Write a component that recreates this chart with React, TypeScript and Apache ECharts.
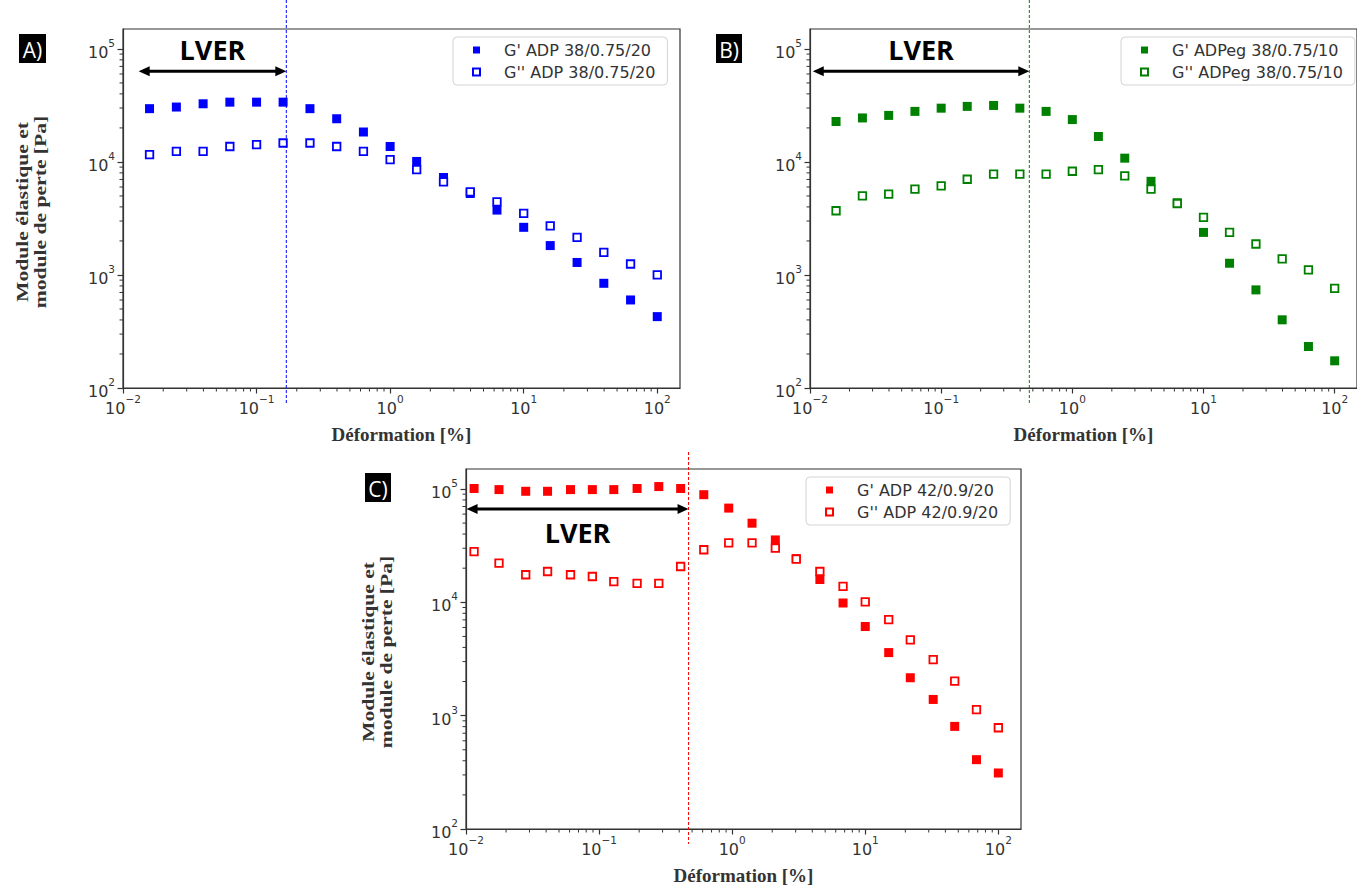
import React, { useEffect, useRef } from "react";
import * as echarts from "echarts";

// ---------- data ----------
const strainAB = [0.0158, 0.0251, 0.0398, 0.0631, 0.1, 0.158, 0.251, 0.398, 0.631, 1, 1.58, 2.51, 3.98, 6.31, 10, 15.8, 25.1, 39.8, 63.1, 100];
const gPrimeA = [29600, 30600, 32700, 33800, 33800, 33800, 29600, 24100, 18400, 13700, 10100, 7280, 5260, 3750, 2640, 1820, 1290, 844, 601, 428];
const gSecondA = [11600, 12400, 12400, 13700, 14200, 14700, 14700, 13700, 12400, 10500, 8560, 6660, 5430, 4430, 3500, 2720, 2150, 1585, 1250, 1000];

const gPrimeB = [22800, 24500, 25800, 28000, 29900, 31000, 31600, 29900, 28000, 23700, 16800, 10800, 6740, 4350, 2380, 1270, 738, 401, 233, 174];
const gSecondB = [3700, 5010, 5190, 5740, 6140, 7030, 7790, 7790, 7790, 8270, 8560, 7520, 5740, 4290, 3230, 2380, 1880, 1390, 1110, 762];

const strainC = [0.0115, 0.0177, 0.0281, 0.041, 0.061, 0.089, 0.129, 0.193, 0.281, 0.41, 0.612, 0.942, 1.41, 2.11, 3.03, 4.56, 6.81, 10, 15, 21.8, 32.4, 47, 68.5, 100];
const gPrimeC = [101000, 98700, 95400, 95400, 98700, 98700, 98700, 101000, 105000, 101000, 89000, 67800, 49900, 35500, 24300, 15900, 9860, 6120, 3600, 2160, 1390, 804, 409, 312];
const gSecondC = [28000, 22200, 17500, 18700, 17500, 16900, 15200, 14700, 14700, 20700, 29100, 33400, 33400, 30100, 24000, 18700, 13800, 10100, 7020, 4670, 3120, 2020, 1130, 782];

const seriesNames = [
  ["G' ADP 38/0.75/20", "G'' ADP 38/0.75/20"],
  ["G' ADPeg 38/0.75/10", "G'' ADPeg 38/0.75/10"],
  ["G' ADP 42/0.9/20", "G'' ADP 42/0.9/20"],
];
const panelLabels = ["A)", "B)", "C)"];
const xTitle = "Déformation [%]";
const yTitle = "Module élastique et\nmodule de perte [Pa]";
// LVER limit (strain %), arrow height (Pa), arrow left end (strain %)
const lverLimit = [0.167, 0.47, 0.47];
const lverArrowStart = [0.0131, 0.0105, 0.0101];
const lverArrowLevel = [63500, 63500, 66400];

const xMajorTicks = [0.01, 0.1, 1, 10, 100];
const xMinorTicks = [0.02, 0.03, 0.04, 0.05, 0.06, 0.07, 0.08, 0.09, 0.2, 0.3, 0.4, 0.5, 0.6, 0.7, 0.8, 0.9, 2, 3, 4, 5, 6, 7, 8, 9, 20, 30, 40, 50, 60, 70, 80, 90];
const yMajorTicks = [100, 1000, 10000, 100000];
const yMinorTicks = [200, 300, 400, 500, 600, 700, 800, 900, 2000, 3000, 4000, 5000, 6000, 7000, 8000, 9000, 20000, 30000, 40000, 50000, 60000, 70000, 80000, 90000];
const xRange = [0.01, 148];
const yRange = [100, 150000];

const colors = ["#0000ff", "#008000", "#ff0000"];
const AXIS = "#333333";
const TICKFONT = "DejaVu Sans";

const zip = (xs: number[], ys: number[]) => xs.map((x, i) => [x, ys[i]]);

const powFmt = (v: number) => {
  const e = Math.round(Math.log10(v));
  return `{b|10}{s|${e < 0 ? "\u2212" + -e : e}}`;
};
const richLabel = {
  b: { fontSize: 16, fontFamily: TICKFONT, color: AXIS, lineHeight: 23, verticalAlign: "bottom" },
  s: { fontSize: 10.5, fontFamily: TICKFONT, color: AXIS, lineHeight: 23, verticalAlign: "top" },
};

const grids = [
  { left: 123, top: 29, width: 557, height: 359 },
  { left: 810, top: 29, width: 557, height: 359 },
  { left: 466, top: 469, width: 555, height: 360 },
];
const legendPos = [
  { left: 453, top: 37 },
  { left: 1121, top: 37 },
  { left: 806, top: 477 },
];
const extTop = [29, 29, 17];
const lverTextDy = [-22, -22, 23];
const labelBoxes = [
  { x: 19, y: 34, w: 27, h: 29 },
  { x: 716, y: 34, w: 26, h: 29 },
  { x: 365, y: 473, w: 26, h: 29 },
];
// y-title centre (only panels A and C carry one)
const yTitlePos = [
  { x: 31, y: 212 },
  null,
  { x: 377, y: 652 },
];

function buildOption() {
  const xAxis: any[] = [];
  const yAxis: any[] = [];
  const series: any[] = [];
  const legend: any[] = [];
  const graphic: any[] = [];

  const dataSets = [
    [zip(strainAB, gPrimeA), zip(strainAB, gSecondA)],
    [zip(strainAB, gPrimeB), zip(strainAB, gSecondB)],
    [zip(strainC, gPrimeC), zip(strainC, gSecondC)],
  ];

  grids.forEach((g, i) => {
    xAxis.push({
      type: "log", logBase: 10, gridIndex: i, min: xRange[0], max: xRange[1], position: "bottom",
      axisLine: { show: true, lineStyle: { color: AXIS, width: 1.2 } },
      axisTick: { show: true, length: 5.5, inside: false, customValues: xMajorTicks, lineStyle: { color: AXIS, width: 1.2 } },
      axisLabel: { show: true, customValues: xMajorTicks, formatter: powFmt, rich: richLabel, margin: 5 },
      splitLine: { show: false }, minorTick: { show: false },
      name: xTitle, nameLocation: "middle", nameGap: 37,
      nameTextStyle: { fontFamily: "Liberation Serif", fontWeight: "bold", fontSize: 19, color: AXIS },
    });
    yAxis.push({
      type: "log", logBase: 10, gridIndex: i, min: yRange[0], max: yRange[1], position: "left",
      axisLine: { show: true, lineStyle: { color: AXIS, width: 1.2 } },
      axisTick: { show: true, length: 5.5, inside: false, customValues: yMajorTicks, lineStyle: { color: AXIS, width: 1.2 } },
      axisLabel: { show: true, customValues: yMajorTicks, formatter: powFmt, rich: richLabel, margin: 8 },
      splitLine: { show: false },
    });

    const c = colors[i];
    series.push({
      type: "scatter", name: seriesNames[i][0], xAxisIndex: i, yAxisIndex: i,
      data: dataSets[i][0], symbol: "rect", symbolSize: 9,
      itemStyle: { color: c, opacity: 1 }, z: 3,
    });
    series.push({
      type: "scatter", name: seriesNames[i][1], xAxisIndex: i, yAxisIndex: i,
      data: dataSets[i][1], symbol: "rect", symbolSize: 7.5,
      itemStyle: { color: "#ffffff", borderColor: c, borderWidth: 1.8, opacity: 1 }, z: 4,
    });
    // minor ticks of both log axes, placed through the axes' own scales
    series.push({
      type: "custom", xAxisIndex: i, yAxisIndex: i, clip: false, silent: true, z: 2,
      data: [[xRange[0], yRange[0]]],
      renderItem: (params: any, api: any) => {
        const cs = params.coordSys;
        const children: any[] = [];
        const yb = cs.y + cs.height;
        xMinorTicks.forEach((v) => {
          const p = api.coord([v, yRange[0]]);
          children.push({ type: "line", shape: { x1: p[0], y1: yb, x2: p[0], y2: yb + 3.5 }, style: { stroke: AXIS, lineWidth: 1 } });
        });
        yMinorTicks.forEach((v) => {
          const p = api.coord([xRange[0], v]);
          children.push({ type: "line", shape: { x1: cs.x - 3.5, y1: p[1], x2: cs.x, y2: p[1] }, style: { stroke: AXIS, lineWidth: 1 } });
        });
        return { type: "group", children };
      },
    });
    const ext = extTop[i];
    const dy = lverTextDy[i];
    series.push({
      type: "custom", xAxisIndex: i, yAxisIndex: i, clip: false, silent: true, z: 6,
      data: [[lverLimit[i], lverArrowLevel[i], lverArrowStart[i]]],
      renderItem: (params: any, api: any) => {
        const cs = params.coordSys;
        const pR = api.coord([api.value(0), api.value(1)]);
        const pL = api.coord([api.value(2), api.value(1)]);
        const top = cs.y - ext;
        const bottom = cs.y + cs.height + 15;
        const ah = 11;
        const aw = 5;
        return {
          type: "group",
          children: [
            { type: "line", shape: { x1: pR[0], y1: top, x2: pR[0], y2: bottom }, style: { stroke: c, lineWidth: 1, lineDash: [3, 2] } },
            { type: "line", shape: { x1: pL[0] + ah - 2, y1: pL[1], x2: pR[0] - ah + 2, y2: pR[1] }, style: { stroke: "#000", lineWidth: 3 } },
            { type: "polygon", shape: { points: [[pL[0], pL[1]], [pL[0] + ah, pL[1] - aw], [pL[0] + ah, pL[1] + aw]] }, style: { fill: "#000" } },
            { type: "polygon", shape: { points: [[pR[0], pR[1]], [pR[0] - ah, pR[1] - aw], [pR[0] - ah, pR[1] + aw]] }, style: { fill: "#000" } },
            {
              type: "text", x: (pL[0] + pR[0]) / 2, y: pR[1] + dy,
              style: { text: "LVER", fill: "#000", font: 'bold 27px "Open Sans"', align: "center", verticalAlign: "middle" },
            },
          ],
        };
      },
    });

    legend.push({
      show: true, orient: "vertical", left: legendPos[i].left, top: legendPos[i].top,
      data: seriesNames[i], itemWidth: 7, itemHeight: 7, itemGap: 6,
      padding: [5, 12, 5, 19], borderColor: "#d4d4d4", borderWidth: 1, borderRadius: 4,
      backgroundColor: "#ffffff",
      textStyle: { fontFamily: TICKFONT, fontSize: 16, color: AXIS, padding: [0, 0, 0, 19] },
      selectedMode: false,
    });

    const b = labelBoxes[i];
    graphic.push({ type: "rect", shape: { x: b.x, y: b.y, width: b.w, height: b.h }, style: { fill: "#000" } });
    graphic.push({
      type: "text", x: b.x + b.w / 2, y: b.y + b.h / 2 + 1,
      style: { text: panelLabels[i], fill: "#fff", font: '21px "Open Sans"', align: "center", verticalAlign: "middle" },
    });
    const yt = yTitlePos[i];
    if (yt) {
      graphic.push({
        type: "text", x: yt.x, y: yt.y, rotation: Math.PI / 2, scaleX: 1.27,
        style: {
          text: yTitle, fill: AXIS, font: 'bold 17px "Liberation Serif"', lineHeight: 18,
          align: "center", verticalAlign: "middle",
        },
      });
    }
  });

  return {
    animation: false,
    backgroundColor: "#ffffff",
    grid: grids.map((g) => ({ ...g, show: true, borderColor: AXIS, borderWidth: 1.2, backgroundColor: "transparent" })),
    xAxis,
    yAxis,
    legend,
    series,
    graphic,
  };
}

export default function App() {
  const ref = useRef<HTMLDivElement>(null);
  useEffect(() => {
    if (!ref.current) return;
    const chart = echarts.init(ref.current, undefined, { renderer: "svg" });
    chart.setOption(buildOption() as any);
    return () => chart.dispose();
  }, []);
  return (
    <div
      ref={ref}
      style={{ position: "absolute", left: 0, top: 0, width: 1357, height: 886, background: "#fff" }}
    />
  );
}
